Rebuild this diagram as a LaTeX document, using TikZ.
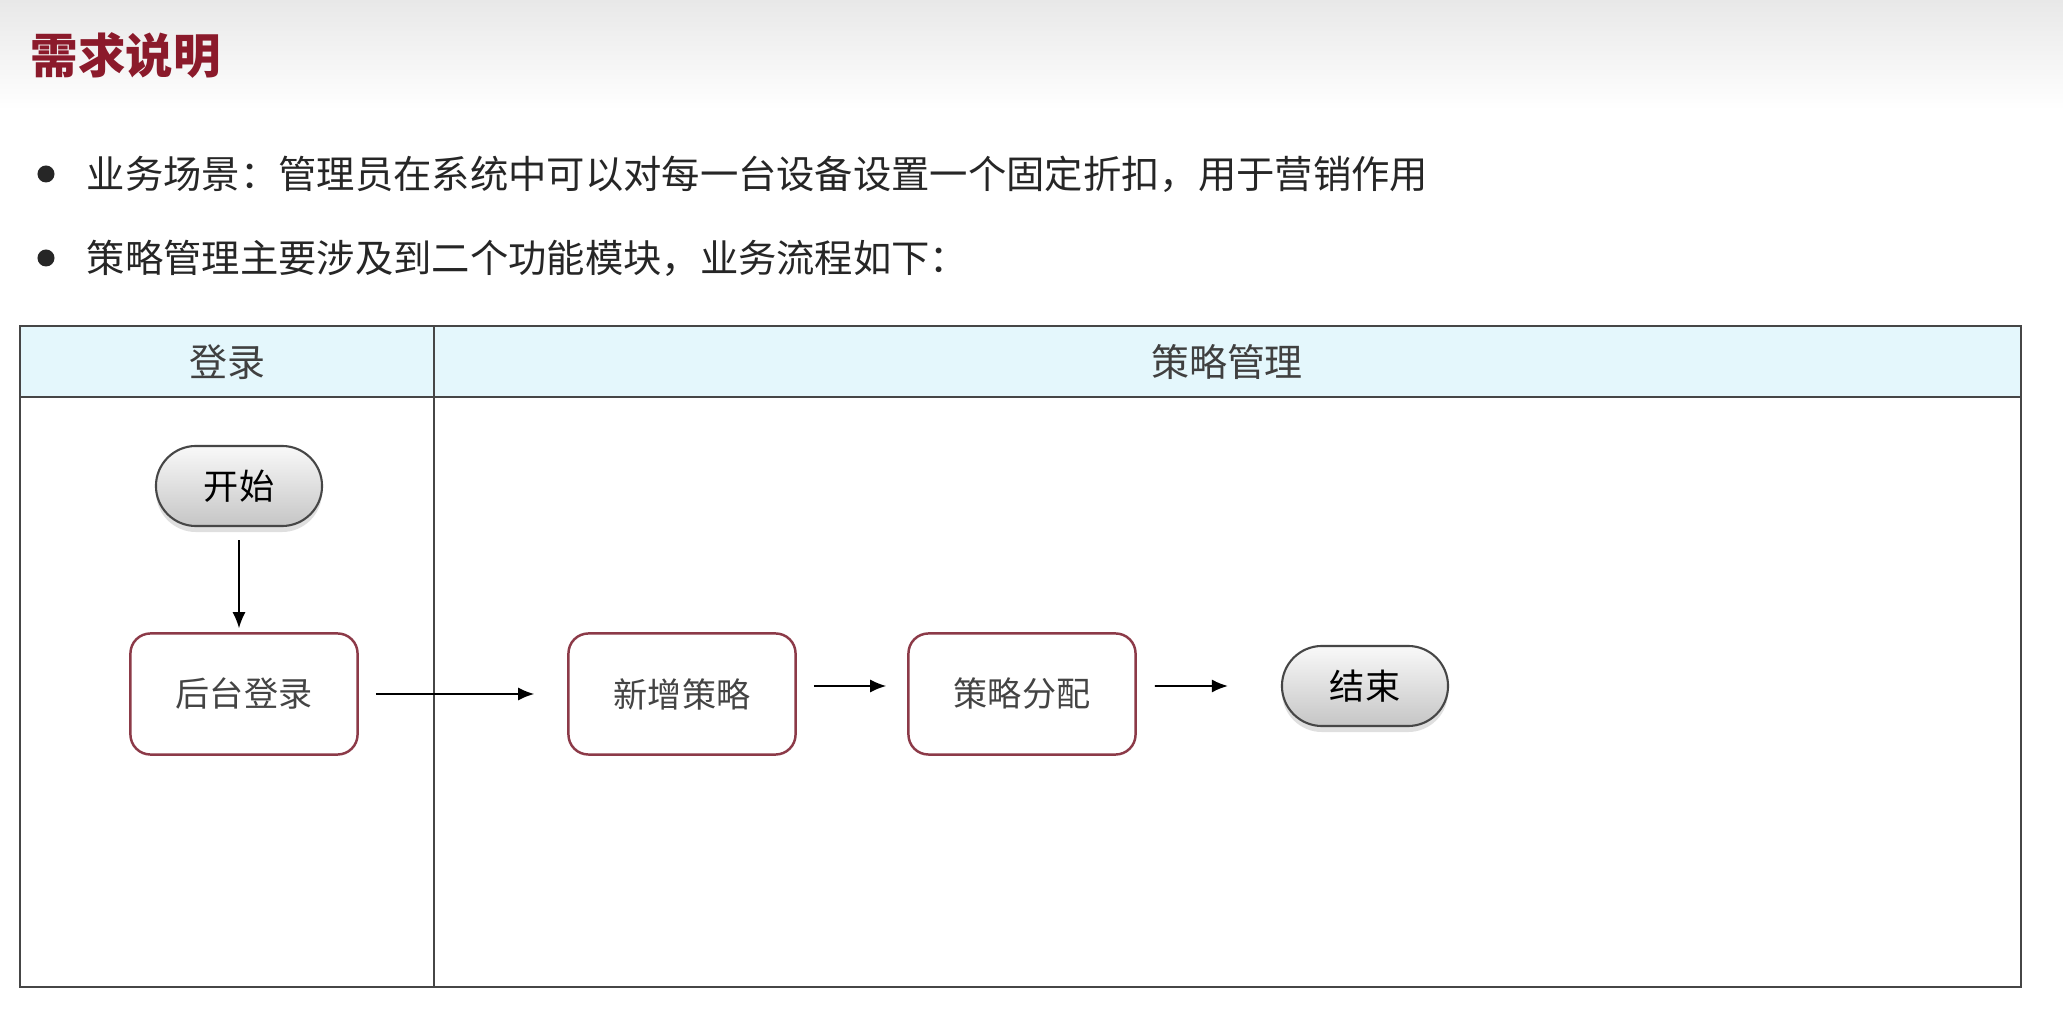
\documentclass[tikz,border=0pt]{standalone}
\usepackage{fontspec}
\setmainfont{Noto Sans CJK SC}
\usetikzlibrary{arrows.meta,shadows}
\definecolor{titlered}{RGB}{139,26,43}
\definecolor{lanecyan}{RGB}{228,247,252}
\definecolor{lineg}{RGB}{70,70,70}
\definecolor{boxred}{RGB}{140,58,72}
\definecolor{txtg}{RGB}{68,68,68}
\begin{document}
\begin{tikzpicture}[x=0.01cm,y=-0.01cm,
    laneline/.style={draw=lineg,line width=0.6pt},
    lanehead/.style={font=\fontsize{10.8pt}{13pt}\selectfont,text=black!75},
    taskbox/.style={draw=boxred,line width=0.7pt,fill=white,rounded corners=0.2cm,
      minimum width=2.27cm,minimum height=1.21cm,
      font=\fontsize{9.7pt}{12pt}\selectfont,text=txtg},
    termbox/.style={draw=lineg,line width=0.6pt,rounded corners=0.4cm,
      top color=gray!5,bottom color=gray!45,
      drop shadow={shadow xshift=0pt,shadow yshift=-0.06cm,opacity=0.25},
      minimum width=1.66cm,minimum height=0.8cm,
      font=\fontsize{10pt}{12pt}\selectfont},
    flow/.style={-{Latex[length=1.6mm,width=1.3mm]},line width=0.45pt},
    itemtext/.style={anchor=west,inner sep=0pt,font=\fontsize{10.9pt}{13pt}\selectfont,text=black!85},
    itemdot/.style={circle,fill=black!85,inner sep=0pt,minimum size=0.17cm}]

  % page and header band
  \fill[white] (0,0) rectangle (2063,1031);
  \shade[top color=black!9,bottom color=white] (0,0) rectangle (2063,110);
  \node[anchor=west,inner sep=0pt,text=titlered,font=\fontsize{13.5pt}{16pt}\selectfont\bfseries]
    (title) at (30,55) {需求说明};

  % bullets
  \node[itemdot] (dot1) at (46,174) {};
  \node[itemtext] (item1) at (86,174) {业务场景：管理员在系统中可以对每一台设备设置一个固定折扣，用于营销作用};
  \node[itemdot] (dot2) at (46,258) {};
  \node[itemtext] (item2) at (86,258) {策略管理主要涉及到二个功能模块，业务流程如下：};

  % lanes
  \fill[lanecyan] (20,326) rectangle (2021,397);
  \draw[laneline] (20,326) rectangle (2021,987);
  \draw[laneline] (20,397) -- (2021,397);
  \draw[laneline] (434,326) -- (434,987);
  \node[lanehead] (lane1) at (227,362) {登录};
  \node[lanehead] (lane2) at (1227,362) {策略管理};

  % flow
  \node[termbox] (start) at (239,486) {开始};
  \node[taskbox] (login) at (244,694) {后台登录};
  \node[taskbox] (add) at (682,694) {新增策略};
  \node[taskbox] (assign) at (1022,694) {策略分配};
  \node[termbox] (stop) at (1365,686) {结束};

  \begin{scope}[flow]
    \draw[shorten <=0.13cm,shorten >=0.04cm] (start.south) to (start.south |- login.north);
    \draw[shorten <=0.17cm,shorten >=0.33cm] (login.east) to (add.west);
    \draw[shorten <=0.17cm,shorten >=0.21cm] ([yshift=0.08cm]add.east) to ([yshift=0.08cm]assign.west);
    \draw[shorten <=0.18cm,shorten >=0.53cm] ([yshift=0.08cm]assign.east) to (stop.west);
  \end{scope}
\end{tikzpicture}
\end{document}
